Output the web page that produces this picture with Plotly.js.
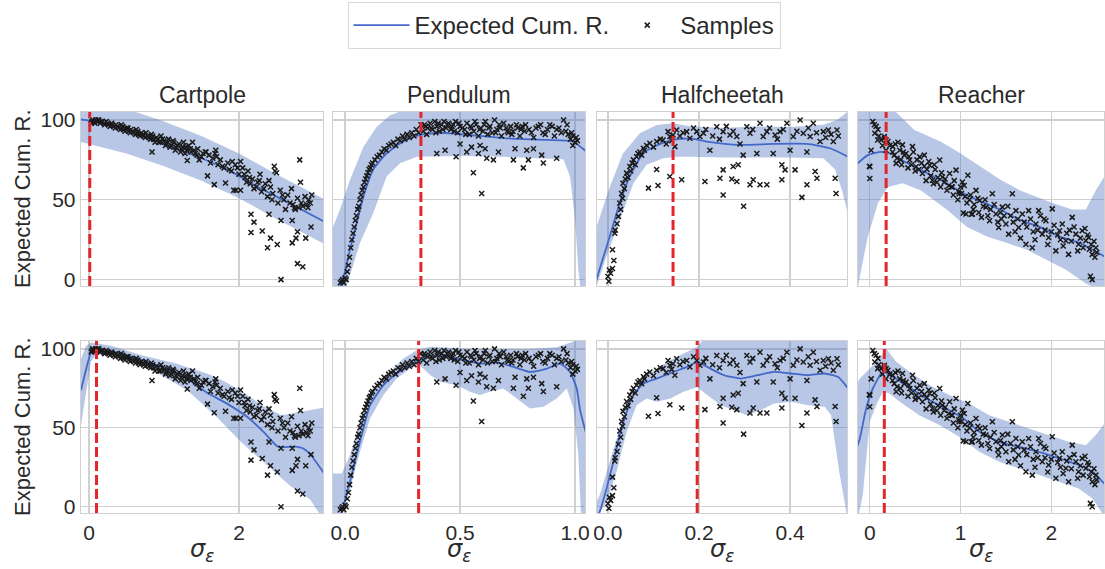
<!DOCTYPE html>
<html><head><meta charset="utf-8">
<script src="https://cdn.plot.ly/plotly-3.0.1.min.js"></script>
<style>html,body{margin:0;padding:0;background:#fff}#chart{width:1105px;height:569px}</style>
</head><body><div id="chart"></div>
<script>
// ---------- categories / labels ----------
const envNames = ['Cartpole', 'Pendulum', 'Halfcheetah', 'Reacher'];
const xTickVals = [[0, 2], [0, 0.5, 1.0], [0, 0.2, 0.4], [0, 1, 2]];
const xTickText = [['0', '2'], ['0.0', '0.5', '1.0'], ['0.0', '0.2', '0.4'], ['0', '1', '2']];
const yTickVals = [0, 50, 100];
const yTickText = ['0', '50', '100'];
// optimal sigma (red dashed line) per panel: [top row], [bottom row]
const optSigmaTop = [0.01, 0.33, 0.143, 0.18];
const optSigmaBottom = [0.1, 0.32, 0.196, 0.16];

// ---------- samples (same samples for both rows) ----------
const cartpoleSamples = [[0.03,98],[0.05,100],[0.07,99],[0.09,100],[0.11,99],[0.13,100],[0.15,98],[0.18,99],[0.2,98],[0.23,99],[0.26,97],[0.3,98],[0.33,96],[0.36,97],[0.4,95],[0.43,97],[0.46,94],[0.5,95],[0.53,93],[0.56,94],[0.6,92],[0.63,94],[0.66,91],[0.7,92],[0.73,90],[0.76,92],[0.8,89],[0.83,91],[0.84,80],[0.86,88],[0.9,89],[0.93,86],[0.96,90],[1.0,87],[1.03,85],[1.06,88],[1.1,84],[1.13,86],[1.16,83],[1.2,85],[1.23,82],[1.26,86],[1.29,83],[1.3,81],[1.31,74.6],[1.33,84],[1.36,80],[1.38,86],[1.42,79],[1.44,78],[1.45,82],[1.5,77],[1.55,80],[1.56,80],[1.58,65],[1.6,78],[1.65,76],[1.67,59.5],[1.68,79],[1.69,81],[1.72,72],[1.75,75],[1.8,70],[1.82,60.5],[1.85,73],[1.9,68],[1.91,74],[1.93,56],[1.95,72],[1.96,56],[2.0,66],[2.02,74],[2.02,56],[2.05,70],[2.08,64],[2.1,61],[2.12,68],[2.15,60],[2.16,41],[2.16,29.5],[2.18,63],[2.2,57],[2.2,36],[2.25,61],[2.27,62],[2.28,66],[2.3,55],[2.31,30.5],[2.35,60],[2.38,52],[2.38,20],[2.4,62],[2.4,41],[2.42,58],[2.42,26],[2.45,54],[2.47,71],[2.48,68],[2.5,67],[2.51,22],[2.52,48],[2.55,56],[2.56,0],[2.56,37],[2.6,50],[2.62,44],[2.65,53],[2.7,57],[2.71,37],[2.71,23],[2.72,47],[2.75,44],[2.76,26],[2.78,51],[2.78,30],[2.78,10],[2.8,45],[2.81,75],[2.82,61],[2.85,46],[2.85,8],[2.88,52],[2.89,26],[2.9,47],[2.92,45],[2.95,48],[2.96,33],[2.97,53],
[0.04,99],[0.08,98],[0.12,100],[0.16,99],[0.21,97],[0.25,98],[0.28,96],[0.31,97],[0.35,95],[0.38,96],[0.42,94],[0.45,96],[0.48,93],[0.52,95],[0.55,92],[0.58,93],[0.62,91],[0.65,93],[0.68,90],[0.72,91],[0.75,89],[0.78,90],[0.82,88],[0.85,90],[0.88,86],[0.92,88],[0.95,86],[0.98,88],[1.02,84],[1.05,86],[1.08,83],[1.12,87],[1.15,81],[1.18,84],[1.22,80],[1.25,83],[1.28,79],[1.35,82],[1.4,81],[1.47,75],[1.52,79],[1.62,73],[1.7,77],[1.78,71],[1.87,69],[1.98,70],[2.07,66],[2.14,64],[2.23,58],[2.33,57],[2.44,50],[2.58,53],[2.68,48],[2.74,45],[2.83,48],[2.93,50]];

const pendulumSamples = [[-0.02,-2],[-0.015,-1],[-0.01,0],[-0.005,-2],[0.0,1],[0.005,0],[0.01,5],[0.015,9],[0.02,14],[0.025,20],[0.03,25],[0.035,29],[0.04,33],[0.045,37],[0.05,40],[0.055,44],[0.06,46],[0.065,50],[0.07,53],[0.075,56],[0.08,58],[0.085,61],[0.09,63],[0.095,65],[0.1,67],[0.105,69],[0.11,70],[0.115,72],[0.12,73],[0.13,75],[0.14,77],[0.15,78],[0.16,80],[0.17,82],[0.18,81],[0.19,84],[0.2,85],[0.21,86],[0.22,84],[0.23,88],[0.24,87],[0.25,90],[0.26,88],[0.27,91],[0.28,89],[0.29,92],[0.3,90],[0.31,94],[0.32,92],[0.33,97],
[0.34,93],[0.35,96],[0.36,95],[0.37,98],[0.38,94],[0.39,99],[0.4,96],[0.41,93],[0.42,97],[0.43,99],[0.44,95],[0.45,98],[0.46,94],[0.47,97],[0.48,99],[0.49,92],[0.5,96],[0.52,94],[0.53,98],[0.54,91],[0.55,95],[0.56,93],[0.57,97],[0.58,90],[0.59,95],[0.6,93],[0.61,99],[0.62,91],[0.63,96],[0.64,92],[0.65,100],[0.66,94],[0.67,97],[0.68,90],[0.7,95],[0.71,92],[0.72,96],[0.73,93],[0.75,95],[0.76,90],[0.77,96],[0.78,93],[0.8,94],[0.82,89],[0.83,95],[0.85,97],[0.86,92],[0.88,94],[0.9,96],[0.91,90],[0.93,95],[0.95,100],[0.96,93],[0.97,91],[0.98,88],[0.99,90],[1.0,86],[1.01,87],[0.99,84],
[0.345,97],[0.355,91],[0.375,95],[0.395,92],[0.405,98],[0.425,94],[0.445,97],[0.465,96],[0.475,93],[0.495,98],[0.51,95],[0.525,91],[0.545,96],[0.565,99],[0.585,94],[0.605,97],[0.625,95],[0.655,92],[0.675,95],[0.69,98],[0.705,93],[0.725,91],[0.745,97],[0.765,94],[0.785,97],[0.81,92],[0.84,96],[0.87,91],[0.89,97],[0.92,94],[0.94,92],[0.965,97],[0.985,92],[1.005,89],
[0.399,79],[0.435,81],[0.483,77],[0.529,80],[0.558,67],[0.594,54],[0.58,79],[0.616,76],[0.645,75],[0.667,80],[0.732,75],[0.739,82],[0.775,70],[0.79,81],[0.797,75],[0.819,82],[0.855,78],[0.862,73],[0.92,76],[0.609,82],[0.587,84],[0.55,83],[0.5,85]];

const halfcheetahSamples = [[0.0,2],[0.002,-1],[0.003,6],[0.006,4],[0.01,7],[0.01,18.75],[0.013,12],[0.015,29],[0.016,31],[0.02,35],[0.023,39.6],[0.026,48],[0.028,44],[0.03,54],[0.032,51],[0.033,60.4],[0.036,57],[0.038,63],[0.041,66.7],[0.044,64],[0.048,70.8],[0.05,68],[0.053,73],[0.056,75],[0.06,72],[0.063,77],[0.066,79],[0.07,80],[0.074,78],[0.078,82.3],[0.08,81],[0.085,84],
[0.092,85.4],[0.1,83],[0.107,86.5],[0.115,88],[0.121,87.5],[0.128,85],[0.132,92.7],[0.136,89.6],[0.14,87],[0.143,90.6],[0.147,83.3],[0.151,93.75],[0.158,90],[0.165,92],[0.173,92.7],[0.18,88.5],[0.188,95],[0.195,92.7],[0.202,89.6],[0.21,91.7],[0.215,94],[0.224,81],[0.23,90],[0.239,95.8],[0.245,88],[0.253,92.7],[0.26,96],[0.268,90.6],[0.275,93],[0.283,89.6],[0.29,85],[0.297,78],[0.305,95.8],[0.312,91.7],[0.318,94],[0.327,79],[0.334,97.9],[0.341,89.6],[0.349,92.7],[0.355,95],[0.363,79],[0.367,90.6],[0.372,88],[0.378,92.7],[0.385,94],[0.393,97.9],[0.4,81],[0.407,89.6],[0.415,93],[0.422,100],[0.429,91.7],[0.437,80],[0.44,95],[0.444,89.6],[0.451,97.9],[0.458,92],[0.466,86.5],[0.473,92.7],[0.478,89],[0.484,93.75],[0.49,91],[0.495,86.5],[0.503,93.75],[0.506,90],
[0.089,57.3],[0.107,69],[0.11,59],[0.136,64.6],[0.162,62.5],[0.213,61.5],[0.246,63.5],[0.253,68.75],[0.253,53],[0.275,70.8],[0.286,71.9],[0.272,63],[0.283,61.5],[0.298,46],[0.312,59.4],[0.319,62.5],[0.334,59.4],[0.349,59.4],[0.382,71.9],[0.389,68.75],[0.382,62.5],[0.411,68.75],[0.426,51.5],[0.437,59.4],[0.455,67.7],[0.459,63.5],[0.499,63.5],[0.501,54]];

const reacherSamples = [[0.0,70.7],[0.0,63.3],[-0.004,71],[0.015,81],[0.033,99],[0.05,97],[0.055,91.7],[0.07,96],[0.087,87.5],[0.09,94],[0.124,87.5],[0.16,89.6],[0.16,88.5],[0.18,87.5],[0.178,81],[0.2,86.5],[0.253,83.3],[0.25,80],[0.28,85],[0.29,72.8],[0.3,76],[0.33,81],[0.35,72],[0.36,84.4],[0.38,78],[0.4,79],[0.42,70],[0.44,74.9],[0.47,83.3],[0.48,80],[0.5,68],[0.51,70.7],[0.55,76.9],[0.58,66.5],[0.6,71],[0.6,78],[0.62,62],[0.65,74],[0.66,71.7],[0.69,62.2],[0.7,60],[0.72,69],[0.75,64],[0.77,74.9],[0.78,58],[0.8,64.3],[0.82,61],[0.85,56],[0.88,66.5],[0.9,58],[0.91,58],[0.92,53],[0.95,68.6],[0.98,55],[0.985,53.8],[1.0,58],[1.02,61.2],[1.03,41.7],[1.05,52],[1.06,41.1],[1.08,65.4],[1.1,50],[1.12,41],[1.13,41.1],[1.15,47],[1.17,55.9],[1.2,42],[1.21,49.6],[1.25,46],[1.28,45.4],[1.3,40],[1.32,36.9],[1.35,53.8],[1.39,41.1],[1.42,32.7],[1.45,38],[1.46,45.4],[1.5,34.8],[1.53,28.5],[1.55,40],[1.57,53.8],[1.61,43.2],[1.64,32.7],[1.68,41.1],[1.7,36],[1.72,22.2],[1.75,43.2],[1.79,20],[1.8,30],[1.83,34.8],[1.86,43.2],[1.9,28.5],[1.92,38],[1.94,36.9],[1.97,26.4],[2.0,30],[2.01,44.3],[2.05,18],[2.09,30.6],[2.1,25],[2.12,34.8],[2.16,24.3],[2.19,15.8],[2.2,31],[2.23,39],[2.27,28.5],[2.3,22.2],[2.34,30.6],[2.35,20],[2.38,24.3],[2.4,28],[2.41,26.4],[2.43,2.1],[2.45,15.8],[2.45,0],[2.47,24],[2.49,20],
[0.1,90],[0.14,84],[0.22,84],[0.27,78],[0.31,86],[0.34,75],[0.37,80],[0.43,77],[0.46,72],[0.52,75],[0.54,69],[0.57,73],[0.63,69],[0.67,65],[0.71,72],[0.74,61],[0.79,67],[0.83,63],[0.87,59],[0.93,62],[0.97,50],[1.01,54],[1.04,59],[1.07,48],[1.11,53],[1.14,44],[1.19,51],[1.23,39],[1.27,50],[1.33,44],[1.37,47],[1.41,36],[1.44,42],[1.48,40],[1.52,46],[1.58,36],[1.6,30],[1.63,38],[1.66,26],[1.73,33],[1.77,38],[1.82,25],[1.85,31],[1.88,40],[1.93,31],[1.96,22],[2.03,34],[2.07,28],[2.13,21],[2.17,29],[2.22,24],[2.25,33],[2.29,18],[2.32,26],[2.37,32],[2.42,19],[2.44,22],[2.48,14],[2.5,17]];

// ---------- fitted curves: top row ----------
const cartTopMeanX = [-0.13, 0, 0.25, 0.5, 0.75, 1.0, 1.25, 1.5, 1.75, 2.0, 2.25, 2.5, 2.75, 3.15];
const cartTopMeanY = [100.5, 99.5, 97, 93, 89, 85, 80.5, 76, 71, 65, 58, 52, 46, 36];
const cartTopUpX = [-0.13, 0.5, 1.0, 1.5, 2.0, 2.5, 3.15];
const cartTopUpY = [114.5, 107, 99, 90, 79, 66, 50];
const cartTopLoX = [-0.13, 0.5, 1.0, 1.5, 2.0, 2.5, 3.15];
const cartTopLoY = [86.5, 79, 71, 62, 51, 38, 22];

const pendTopMeanX = [-0.03, 0.0, 0.022, 0.05, 0.08, 0.123, 0.18, 0.254, 0.326, 0.413, 0.543, 0.703, 0.877, 0.99, 1.05];
const pendTopMeanY = [-8, 5, 19, 35, 52, 69, 79, 86.5, 90.6, 92, 90.6, 88.5, 87.5, 86.5, 80];
const pendTopUpX = [-0.06, -0.022, 0.022, 0.08, 0.138, 0.196, 0.254, 0.5, 0.8, 1.0, 1.06];
const pendTopUpY = [30, 43.7, 62.5, 83, 95.8, 103, 106, 108, 108, 112, 130];
const pendTopLoX = [-0.06, 0.007, 0.065, 0.123, 0.181, 0.239, 0.312, 0.514, 0.732, 0.949, 0.978, 1.0, 1.014, 1.022, 1.06];
const pendTopLoY = [-20, -4.2, 22.9, 41.7, 64.6, 72.9, 77, 77.5, 76.7, 75.4, 64.6, 37.5, 6.25, -4, -20];

const halfTopMeanX = [-0.03, -0.021, 0.004, 0.026, 0.048, 0.077, 0.107, 0.143, 0.18, 0.217, 0.29, 0.363, 0.437, 0.488, 0.53];
const halfTopMeanY = [-5, 4, 27, 48, 64.6, 79, 84, 87.5, 88.5, 86.5, 84.4, 85, 85, 82.3, 76.5];
const halfTopUpX = [-0.03, -0.025, 0.004, 0.033, 0.07, 0.107, 0.143, 0.18, 0.253, 0.327, 0.4, 0.473, 0.503, 0.53];
const halfTopUpY = [28, 33, 58, 79, 91.7, 96.9, 98, 96, 95, 96, 95.6, 97, 100, 106];
const halfTopLoX = [-0.03, -0.025, -0.003, 0.026, 0.056, 0.085, 0.121, 0.151, 0.18, 0.253, 0.4, 0.473, 0.499, 0.514, 0.53];
const halfTopLoY = [-10, -4, 14.6, 37.5, 60.4, 72, 76, 77, 77, 76.5, 76.5, 76, 69, 56, 38];

const reachTopMeanX = [-0.15, -0.022, 0.124, 0.23, 0.38, 0.56, 0.78, 1.0, 1.22, 1.44, 1.65, 1.87, 2.09, 2.31, 2.6];
const reachTopMeanY = [72, 78, 80, 79, 74, 68.75, 62.5, 55, 49, 43.75, 37.5, 33, 27, 23, 14];
const reachTopUpX = [-0.15, 0.27, 0.49, 0.78, 1.0, 1.22, 1.44, 1.65, 1.87, 2.02, 2.23, 2.38, 2.49, 2.6];
const reachTopUpY = [120, 106, 93.75, 86.5, 79, 71, 62.5, 56, 51, 47.9, 44, 44, 56, 66];
const reachTopLoX = [-0.15, -0.13, -0.022, 0.09, 0.2, 0.36, 0.56, 0.85, 1.07, 1.29, 1.51, 1.73, 1.945, 2.16, 2.38, 2.6];
const reachTopLoY = [-10, -4, 27, 48, 58, 60.4, 56, 43.75, 33, 27, 22.9, 18.75, 12.5, 6.25, -2.5, -8];

// ---------- fitted curves: bottom row ----------
const cartBotMeanX = [-0.107, -0.04, 0.027, 0.116, 0.38, 0.83, 1.27, 1.58, 1.85, 2.12, 2.34, 2.52, 2.74, 2.85, 2.96, 3.15];
const cartBotMeanY = [73.8, 86.8, 97.6, 99.8, 97.6, 91, 82.5, 72, 65, 56.5, 46.8, 38, 38, 37, 32.6, 20];
const cartBotUpX = [-0.12, -0.04, 0.027, 0.3, 0.7, 1.14, 1.6, 1.82, 2.04, 2.3, 2.57, 2.83, 3.06, 3.15];
const cartBotUpY = [92, 102, 104, 102, 96, 91, 84, 79, 73, 64.5, 58, 60.4, 62.6, 63];
const cartBotLoX = [-0.12, -0.04, 0.027, 0.1, 0.38, 0.83, 1.31, 1.71, 2.02, 2.37, 2.68, 2.95, 3.07, 3.15];
const cartBotLoY = [48, 72, 92, 96.5, 94.6, 87, 73.8, 56.5, 41.3, 26.2, 13.2, 4.5, -4, -10];

const pendBotMeanX = [-0.03, -0.014, 0.022, 0.05, 0.08, 0.109, 0.167, 0.225, 0.283, 0.326, 0.37, 0.442, 0.514, 0.587, 0.66, 0.732, 0.804, 0.877, 0.935, 0.978, 1.007, 1.022, 1.05];
const pendBotMeanY = [-10, -3.2, 15.8, 32.7, 49.6, 64.3, 77, 84.4, 89.7, 93.9, 95.9, 95, 92.8, 90.7, 91.4, 88.6, 85.4, 87.5, 90.7, 85.4, 74.9, 61, 45];
const pendBotUpX = [-0.06, -0.014, 0.022, 0.065, 0.109, 0.181, 0.254, 0.312, 0.37, 0.514, 0.66, 0.804, 0.92, 0.978, 1.02, 1.06];
const pendBotUpY = [21, 21, 32.7, 53.8, 70.7, 83.4, 93.9, 99.2, 101.3, 100.2, 100, 100, 101, 104, 106, 110];
const pendBotLoX = [-0.06, -0.014, 0.022, 0.065, 0.109, 0.167, 0.225, 0.283, 0.326, 0.37, 0.413, 0.486, 0.543, 0.587, 0.63, 0.688, 0.746, 0.804, 0.862, 0.92, 0.964, 0.993, 1.014, 1.025, 1.06];
const pendBotLoY = [-4, -4, 11.6, 34.8, 55.9, 70.7, 81.2, 87.6, 89.7, 83.4, 79.1, 77, 72.8, 70.7, 72.8, 74.9, 68.6, 62.2, 63.3, 68.6, 74.9, 62.2, 32.7, -4, -20];

const halfBotMeanX = [-0.03, -0.018, -0.003, 0.012, 0.026, 0.041, 0.056, 0.078, 0.107, 0.144, 0.174, 0.196, 0.225, 0.255, 0.292, 0.328, 0.365, 0.402, 0.439, 0.476, 0.505, 0.53];
const halfBotMeanY = [-10, -3.2, 11.6, 28.5, 45.4, 60.1, 70.7, 78, 81.2, 85.4, 88.6, 91.7, 87.5, 83.3, 81.2, 83.3, 85.4, 84.4, 83.3, 84.4, 82.3, 74];
const halfBotUpX = [-0.03, -0.018, 0.004, 0.026, 0.048, 0.078, 0.107, 0.144, 0.181, 0.196, 0.21, 0.3, 0.53];
const halfBotUpY = [0, 7.4, 28.5, 49.6, 68.6, 81.2, 87.5, 93.9, 99.2, 101.3, 106, 108, 108];
const halfBotLoX = [-0.03, -0.018, -0.003, 0.019, 0.041, 0.063, 0.085, 0.107, 0.137, 0.166, 0.196, 0.218, 0.248, 0.277, 0.306, 0.336, 0.365, 0.402, 0.439, 0.476, 0.49, 0.508, 0.524, 0.53];
const halfBotLoY = [-10, -4, 3.2, 22.2, 47.5, 64.3, 68.6, 66.5, 68.6, 72.8, 75.9, 70.7, 64.3, 61.2, 58, 61.2, 65.4, 66.5, 64.3, 63.3, 58, 22.2, -4, -10];

const reachBotMeanX = [-0.14, -0.11, -0.04, 0.033, 0.143, 0.253, 0.4, 0.62, 0.84, 1.03, 1.21, 1.42, 1.64, 1.86, 2.09, 2.3, 2.45, 2.6];
const reachBotMeanY = [38, 43.2, 62.2, 74.9, 85.4, 82.3, 77, 68.6, 62.2, 55.9, 47.5, 41.1, 38, 34.8, 30.6, 26.4, 22.2, 13.7];
const reachBotUpX = [-0.14, -0.11, 0.0, 0.106, 0.18, 0.29, 0.44, 0.66, 0.875, 1.095, 1.315, 1.535, 1.755, 1.975, 2.19, 2.38, 2.49, 2.6];
const reachBotUpY = [78, 81.2, 87.5, 93.9, 100.2, 91.8, 85.4, 77, 70.7, 65.4, 58, 53.8, 49.6, 45.4, 41.1, 39, 45.4, 53.8];
const reachBotLoX = [-0.14, -0.13, -0.077, 0.0, 0.07, 0.143, 0.216, 0.33, 0.545, 0.766, 0.985, 1.206, 1.425, 1.645, 1.865, 2.09, 2.3, 2.45, 2.56, 2.6];
const reachBotLoY = [-10, -5, 7.6, 53.8, 64.3, 72.8, 71.7, 66.5, 58, 51.7, 44.3, 34.8, 28.5, 24.3, 20, 15.8, 11.6, 5.3, -4, -10];

// ---------- assemble ----------
const samplesByCol = [cartpoleSamples, pendulumSamples, halfcheetahSamples, reacherSamples];
const curves = [
  [
    {mx: cartTopMeanX, my: cartTopMeanY, ux: cartTopUpX, uy: cartTopUpY, lx: cartTopLoX, ly: cartTopLoY},
    {mx: pendTopMeanX, my: pendTopMeanY, ux: pendTopUpX, uy: pendTopUpY, lx: pendTopLoX, ly: pendTopLoY},
    {mx: halfTopMeanX, my: halfTopMeanY, ux: halfTopUpX, uy: halfTopUpY, lx: halfTopLoX, ly: halfTopLoY},
    {mx: reachTopMeanX, my: reachTopMeanY, ux: reachTopUpX, uy: reachTopUpY, lx: reachTopLoX, ly: reachTopLoY}
  ],
  [
    {mx: cartBotMeanX, my: cartBotMeanY, ux: cartBotUpX, uy: cartBotUpY, lx: cartBotLoX, ly: cartBotLoY},
    {mx: pendBotMeanX, my: pendBotMeanY, ux: pendBotUpX, uy: pendBotUpY, lx: pendBotLoX, ly: pendBotLoY},
    {mx: halfBotMeanX, my: halfBotMeanY, ux: halfBotUpX, uy: halfBotUpY, lx: halfBotLoX, ly: halfBotLoY},
    {mx: reachBotMeanX, my: reachBotMeanY, ux: reachBotUpX, uy: reachBotUpY, lx: reachBotLoX, ly: reachBotLoY}
  ]
];
const optSigma = [optSigmaTop, optSigmaBottom];

// layout geometry (pixels)
const W = 1105, H = 569;
const colPx = [[81, 323], [333, 585], [597, 847], [858, 1104]];
const rowPx = [[112, 286], [341, 513]];
const xRanges = [[-0.107, 3.12], [-0.052, 1.043], [-0.024, 0.525], [-0.13, 2.58]];
const yRange = [-4, 105];

const FONT = 'Liberation Sans, Arial, sans-serif';
const TXT = '#2a2a2a';
const GRID = '#d0d0d0';
const LINE_C = '#4468c8';
const BAND_C = 'rgba(76,114,190,0.40)';

const traces = [];
const layout = {
  width: W, height: H,
  margin: {l: 0, r: 0, t: 0, b: 0},
  paper_bgcolor: '#fff', plot_bgcolor: '#fff',
  font: {family: FONT, color: TXT},
  showlegend: true,
  legend: {
    orientation: 'h', x: 564 / W, xanchor: 'center', y: 1 - 2 / H, yanchor: 'top',
    font: {size: 24, family: FONT, color: TXT},
    bordercolor: '#d9d9d9', borderwidth: 1, bgcolor: '#fff',
    itemwidth: 56
  },
  shapes: [], annotations: []
};

for (let r = 0; r < 2; r++) {
  for (let c = 0; c < 4; c++) {
    const n = r * 4 + c + 1;
    const xa = n === 1 ? 'x' : 'x' + n;
    const ya = n === 1 ? 'y' : 'y' + n;
    const cv = curves[r][c];
    traces.push({
      type: 'scatter', mode: 'lines', xaxis: xa, yaxis: ya,
      x: cv.ux.concat(cv.lx.slice().reverse()),
      y: cv.uy.concat(cv.ly.slice().reverse()),
      fill: 'toself', fillcolor: BAND_C, line: {width: 0, color: 'rgba(0,0,0,0)'},
      hoverinfo: 'skip', showlegend: false
    });
    traces.push({
      type: 'scatter', mode: 'lines', xaxis: xa, yaxis: ya,
      x: cv.mx, y: cv.my, line: {color: LINE_C, width: 1.8, shape: 'spline', smoothing: 0.5},
      name: 'Expected Cum. R.', showlegend: n === 1
    });
    const s = samplesByCol[c];
    traces.push({
      type: 'scatter', mode: 'markers', xaxis: xa, yaxis: ya,
      x: s.map(p => p[0]), y: s.map(p => p[1]),
      marker: {symbol: 'x-thin', size: 5, line: {width: 1.5, color: '#1a1a1a'}, color: '#1a1a1a'},
      name: 'Samples', showlegend: n === 1
    });

    const axX = n === 1 ? 'xaxis' : 'xaxis' + n;
    const axY = n === 1 ? 'yaxis' : 'yaxis' + n;
    layout[axX] = {
      domain: [colPx[c][0] / W, colPx[c][1] / W], anchor: ya,
      range: xRanges[c], tickvals: xTickVals[c], ticktext: xTickText[c],
      showticklabels: r === 1, tickfont: {size: 21, family: FONT, color: TXT},
      showgrid: true, gridcolor: GRID, gridwidth: 1.3, zeroline: false,
      showline: true, linecolor: GRID, linewidth: 1.3, mirror: true, ticks: ''
    };
    layout[axY] = {
      domain: [1 - rowPx[r][1] / H, 1 - rowPx[r][0] / H], anchor: xa,
      range: yRange, tickvals: yTickVals, ticktext: yTickText,
      showticklabels: c === 0, tickfont: {size: 21, family: FONT, color: TXT},
      showgrid: true, gridcolor: GRID, gridwidth: 1.3, zeroline: false,
      showline: true, linecolor: GRID, linewidth: 1.3, mirror: true, ticks: ''
    };
    layout.shapes.push({
      type: 'line', xref: xa, yref: ya + ' domain',
      x0: optSigma[r][c], x1: optSigma[r][c], y0: 0, y1: 1,
      line: {color: '#e3262c', width: 3, dash: '10px,4px'}, layer: 'above'
    });
  }
}

for (let c = 0; c < 4; c++) {
  layout.annotations.push({
    text: envNames[c], xref: 'paper', yref: 'paper',
    x: (colPx[c][0] + colPx[c][1]) / 2 / W, y: 1 - 95 / H,
    xanchor: 'center', yanchor: 'middle', showarrow: false,
    font: {size: 23, family: FONT, color: TXT}
  });
  layout.annotations.push({
    text: '<i>σ</i><sub><i>ε</i></sub>', xref: 'paper', yref: 'paper',
    x: (colPx[c][0] + colPx[c][1]) / 2 / W, y: 0,
    xanchor: 'center', yanchor: 'bottom', yshift: 1, showarrow: false,
    font: {size: 24, family: 'DejaVu Sans, sans-serif', color: TXT}
  });
}
for (let r = 0; r < 2; r++) {
  layout.annotations.push({
    text: 'Expected Cum. R.', xref: 'paper', yref: 'paper',
    x: 22 / W, y: 1 - ((rowPx[r][0] + rowPx[r][1]) / 2) / H,
    xanchor: 'center', yanchor: 'middle', textangle: -90, showarrow: false,
    font: {size: 22, family: FONT, color: TXT}
  });
}

Plotly.newPlot('chart', traces, layout, {staticPlot: true, displayModeBar: false});
</script></body></html>
